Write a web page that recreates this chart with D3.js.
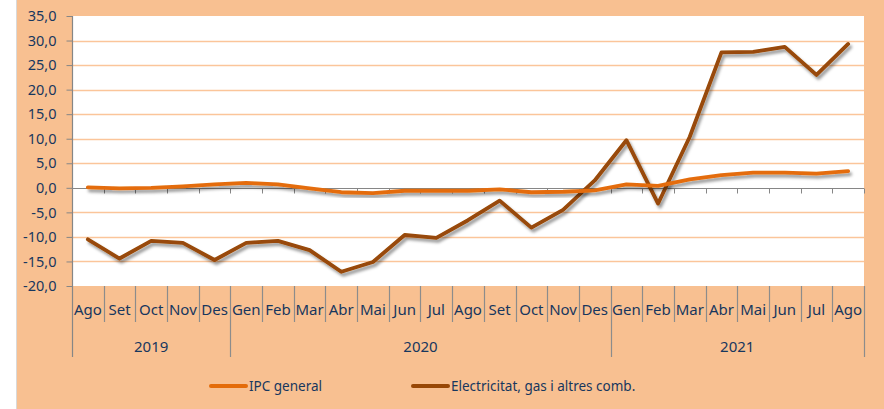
<!DOCTYPE html>
<html>
<head>
<meta charset="utf-8">
<script src="https://cdn.jsdelivr.net/npm/d3@7"></script>
<style>
  body { margin: 0; background: #ffffff; }
  text { font-family: "Noto Sans", "Open Sans", sans-serif; fill: #17375e; }
</style>
</head>
<body>
<script>
// dades: variació interanual (%)
var months = ["Ago","Set","Oct","Nov","Des",
              "Gen","Feb","Mar","Abr","Mai","Jun","Jul","Ago","Set","Oct","Nov","Des",
              "Gen","Feb","Mar","Abr","Mai","Jun","Jul","Ago"];
var yearLabels = ["2019", "2020", "2021"];
var yearSpans = [5, 12, 8];

var ipcGeneral = [0.1, -0.1, 0.0, 0.3, 0.7,
                  1.0, 0.7, -0.1, -0.9, -1.1, -0.6, -0.6, -0.6, -0.3, -0.9, -0.8, -0.5,
                  0.7, 0.4, 1.7, 2.6, 3.1, 3.1, 2.9, 3.4];
var electricitat = [-10.5, -14.4, -10.8, -11.2, -14.7,
                    -11.2, -10.8, -12.7, -17.1, -15.1, -9.6, -10.2, -6.6, -2.6, -8.1, -4.5, 1.5,
                    9.7, -3.2, 10.4, 27.6, 27.7, 28.7, 23.0, 29.3];
var yTicks = [-20, -15, -10, -5, 0, 5, 10, 15, 20, 25, 30, 35];

var seriesNames = ["IPC general", "Electricitat, gas i altres comb."];
var seriesColors = ["#e46c0a", "#984807"];

// mides
var width = 884, height = 409;
var plot = { left: 72, right: 864, top: 16, bottom: 286 };

var svg = d3.select("body").append("svg")
    .attr("width", width)
    .attr("height", height);

// fons
svg.append("rect").attr("x", 16).attr("y", 0)
    .attr("width", width - 16).attr("height", height)
    .attr("fill", "#f8c091");
svg.append("line").attr("x1", 16.5).attr("x2", 16.5).attr("y1", 0).attr("y2", height)
    .attr("stroke", "#d9d9d9");

svg.append("rect")
    .attr("x", plot.left).attr("y", plot.top)
    .attr("width", plot.right - plot.left).attr("height", plot.bottom - plot.top)
    .attr("fill", "#ffffff");

// escales
var x = d3.scaleBand()
    .domain(d3.range(months.length))
    .range([plot.left, plot.right])
    .padding(0);
var y = d3.scaleLinear().domain([-20, 35]).range([plot.bottom, plot.top]);

var loc = d3.formatLocale({ decimal: ",", thousands: ".", grouping: [3], currency: ["", "€"], minus: "-" });
var fmt = loc.format(".1f");

// línies de la graella
svg.append("g").selectAll("line")
    .data(yTicks.filter(d => d !== 0 && d !== 35 && d !== -20))
    .enter().append("line")
    .attr("x1", plot.left).attr("x2", plot.right)
    .attr("y1", d => Math.round(y(d)) + 0.5).attr("y2", d => Math.round(y(d)) + 0.5)
    .attr("stroke", "#fbc59a").attr("stroke-width", 1.5);

// eix Y
var yAxis = svg.append("g")
    .attr("transform", "translate(" + (plot.left + 0.5) + ",0)")
    .call(d3.axisLeft(y).tickValues(yTicks).tickFormat(fmt).tickSize(6).tickPadding(10));
yAxis.select(".domain").remove();
yAxis.selectAll(".tick line").attr("stroke", "#868686");
yAxis.selectAll("text").style("font-size", "14.5px").attr("fill", "#17375e");

svg.append("line")
    .attr("x1", plot.left + 0.5).attr("x2", plot.left + 0.5)
    .attr("y1", plot.top).attr("y2", 357)
    .attr("stroke", "#868686").attr("stroke-width", 1.2);

// eix zero amb marques
var zeroY = Math.round(y(0)) + 0.5;
svg.append("line")
    .attr("x1", plot.left).attr("x2", plot.right)
    .attr("y1", zeroY).attr("y2", zeroY)
    .attr("stroke", "#868686").attr("stroke-width", 1.2);
svg.append("g").selectAll("line")
    .data(d3.range(months.length + 1))
    .enter().append("line")
    .attr("x1", d => Math.round(d < months.length ? x(d) : plot.right) + 0.5)
    .attr("x2", d => Math.round(d < months.length ? x(d) : plot.right) + 0.5)
    .attr("y1", zeroY).attr("y2", zeroY + 5)
    .attr("stroke", "#868686");

// separadors de categories
var yearStarts = [0];
yearSpans.forEach((s, i) => yearStarts.push(yearStarts[i] + s));

svg.append("g").selectAll("line")
    .data(d3.range(1, months.length + 1))
    .enter().append("line")
    .attr("x1", d => Math.round(d < months.length ? x(d) : plot.right) + 0.5)
    .attr("x2", d => Math.round(d < months.length ? x(d) : plot.right) + 0.5)
    .attr("y1", plot.bottom)
    .attr("y2", d => yearStarts.indexOf(d) >= 0 ? 357 : 322)
    .attr("stroke", "#8c8c8c").attr("stroke-width", 1.2);

// etiquetes de mesos
svg.append("g").selectAll("text")
    .data(months)
    .enter().append("text")
    .attr("x", (d, i) => x(i) + x.bandwidth() / 2)
    .attr("y", 315)
    .attr("text-anchor", "middle")
    .style("font-size", "15px")
    .text(d => d);

// etiquetes d'anys
svg.append("g").selectAll("text")
    .data(yearLabels)
    .enter().append("text")
    .attr("x", (d, i) => {
        var a = x(yearStarts[i]);
        var b = yearStarts[i + 1] < months.length ? x(yearStarts[i + 1]) : plot.right;
        return (a + b) / 2;
    })
    .attr("y", 352)
    .attr("text-anchor", "middle")
    .style("font-size", "15px")
    .text(d => d);

// ombra de les línies
var defs = svg.append("defs");
var f = defs.append("filter").attr("id", "ombra")
    .attr("x", "-10%").attr("y", "-10%").attr("width", "120%").attr("height", "130%");
f.append("feDropShadow")
    .attr("dx", 2).attr("dy", 3).attr("stdDeviation", 1.8)
    .attr("flood-color", "#000").attr("flood-opacity", 0.4);

var line = d3.line()
    .x((d, i) => x(i) + x.bandwidth() / 2)
    .y(d => y(d));

[electricitat, ipcGeneral].forEach((vals, k) => {
    svg.append("path")
        .datum(vals)
        .attr("d", line)
        .attr("fill", "none")
        .attr("stroke", k === 0 ? seriesColors[1] : seriesColors[0])
        .attr("stroke-width", 3.8)
        .attr("stroke-linejoin", "round")
        .attr("stroke-linecap", "round")
        .attr("filter", "url(#ombra)");
});

// llegenda
var legendX = [211, 413];
var legend = svg.append("g").selectAll("g")
    .data(seriesNames)
    .enter().append("g")
    .attr("transform", (d, i) => "translate(" + legendX[i] + ",386)");
legend.append("line")
    .attr("x1", 0).attr("x2", 35)
    .attr("stroke", (d, i) => seriesColors[i])
    .attr("stroke-width", 4)
    .attr("stroke-linecap", "round");
legend.append("text")
    .attr("x", 38).attr("y", 5)
    .style("font-size", "13.5px")
    .text(d => d);
</script>
</body>
</html>
